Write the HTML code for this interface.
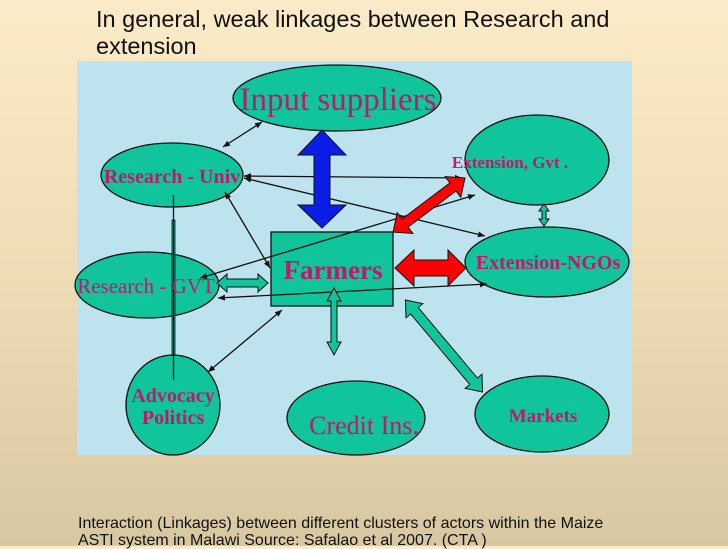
<!DOCTYPE html>
<html><head><style>
html,body{margin:0;padding:0}
body{width:728px;height:546px;overflow:hidden;background:linear-gradient(#fcebc8,#eedcb5 50%,#d8c8a2);font-family:"Liberation Sans",sans-serif;position:relative}
.t{position:absolute;left:96px;top:6px;font-size:23.5px;line-height:27px;color:#111;width:620px}
.c{position:absolute;left:78px;top:516px;font-size:16px;line-height:16.5px;color:#111;white-space:nowrap}
svg{position:absolute;left:0;top:0}
.e{fill:#10c49c;stroke:#111;stroke-width:1.3}
.l{stroke:#111;stroke-width:1.3;fill:none;marker-start:url(#a);marker-end:url(#a)}
text.s{font-family:"Liberation Serif",serif;fill:#c0186a;text-anchor:middle}
</style></head><body>
<div class="t">In general, weak linkages between Research and<br>extension</div>
<div class="c">Interaction (Linkages) between different clusters of actors within the Maize<br>ASTI system in Malawi Source: Safalao et al 2007. (CTA )</div>
<svg width="728" height="546">
<defs><marker id="a" markerWidth="8" markerHeight="8" refX="7" refY="4" orient="auto-start-reverse" markerUnits="userSpaceOnUse"><path d="M0,1 L7,4 L0,7 Z" fill="#111"/></marker></defs>
<rect x="77" y="61" width="555" height="394" fill="#bde3ee"/>
<ellipse class="e" cx="337" cy="98" rx="104" ry="33"/>
<ellipse class="e" cx="172" cy="175" rx="71" ry="32"/>
<ellipse class="e" cx="537" cy="160" rx="72" ry="45"/>
<ellipse class="e" cx="547" cy="262" rx="82" ry="35"/>
<ellipse class="e" cx="147" cy="285" rx="72" ry="33"/>
<ellipse class="e" cx="173" cy="405" rx="47" ry="50"/>
<ellipse class="e" cx="356" cy="418" rx="69" ry="37"/>
<ellipse class="e" cx="542" cy="414" rx="67" ry="38"/>
<rect x="271" y="232" width="122" height="74" class="e"/>
<line class="l" x1="223" y1="147" x2="262" y2="122"/>
<line class="l" x1="244" y1="176" x2="462" y2="178"/>
<line class="l" x1="244" y1="178" x2="485" y2="236"/>
<line class="l" x1="225" y1="192" x2="270" y2="268"/>
<line class="l" x1="200" y1="278" x2="475" y2="195"/>
<line class="l" x1="218" y1="298" x2="487" y2="284"/>
<line class="l" x1="208" y1="372" x2="282" y2="310"/>
<path d="M172,220 L175,220 L175,355 L172,355 Z" fill="#10c49c" stroke="#111" stroke-width="0.8"/>
<line x1="173.5" y1="195" x2="173.5" y2="380" stroke="#111" stroke-width="1.3"/>
<path d="M322,130 L346,155 L330,155 L330,205 L346,205 L322,228 L298,205 L314,205 L314,155 L298,155 Z" fill="#0a1ee8" stroke="#111" stroke-width="1"/>
<path d="M395,268 L414,250 L414,260 L448,260 L448,250 L466,268 L448,286 L448,276 L414,276 L414,286 Z" fill="#f00" stroke="#111" stroke-width="1"/>
<g transform="translate(429,205) rotate(-37)"><path d="M-45,0 L-30,-13 L-30,-5 L30,-5 L30,-13 L45,0 L30,13 L30,5 L-30,5 L-30,13 Z" fill="#f00" stroke="#111" stroke-width="1"/></g>
<path d="M217,283 L227,274 L227,279 L258,279 L258,274 L268,283 L258,292 L258,287 L227,287 L227,292 Z" fill="#10c49c" stroke="#111" stroke-width="1"/>
<path d="M334,288 L341,301 L337,301 L337,342 L341,342 L334,355 L327,342 L331,342 L331,301 L327,301 Z" fill="#10c49c" stroke="#111" stroke-width="1"/>
<path d="M544,204 L549,211 L546,211 L546,219 L549,219 L544,226 L539,219 L542,219 L542,211 L539,211 Z" fill="#10c49c" stroke="#111" stroke-width="1"/>
<g transform="translate(444,346) rotate(50)"><path d="M-60,0 L-46,-11 L-46,-5 L46,-5 L46,-11 L60,0 L46,11 L46,5 L-46,5 L-46,11 Z" fill="#10c49c" stroke="#111" stroke-width="1"/></g>
<text class="s" x="338" y="110" font-size="33">Input suppliers</text>
<text class="s" x="172" y="183" font-size="20" font-weight="bold">Research - Univ</text>
<text class="s" x="510" y="168" font-size="17" font-weight="bold">Extension, Gvt .</text>
<text class="s" x="548" y="269" font-size="20" font-weight="bold">Extension-NGOs</text>
<text class="s" x="146" y="293" font-size="21">Research - GVT</text>
<text class="s" x="333" y="279" font-size="27" font-weight="bold">Farmers</text>
<text class="s" x="173" y="402" font-size="20" font-weight="bold">Advocacy</text>
<text class="s" x="173" y="424" font-size="20" font-weight="bold">Politics</text>
<text class="s" x="364" y="434" font-size="26">Credit Ins.</text>
<text class="s" x="543" y="422" font-size="19" font-weight="bold">Markets</text>
</svg>
</body></html>
